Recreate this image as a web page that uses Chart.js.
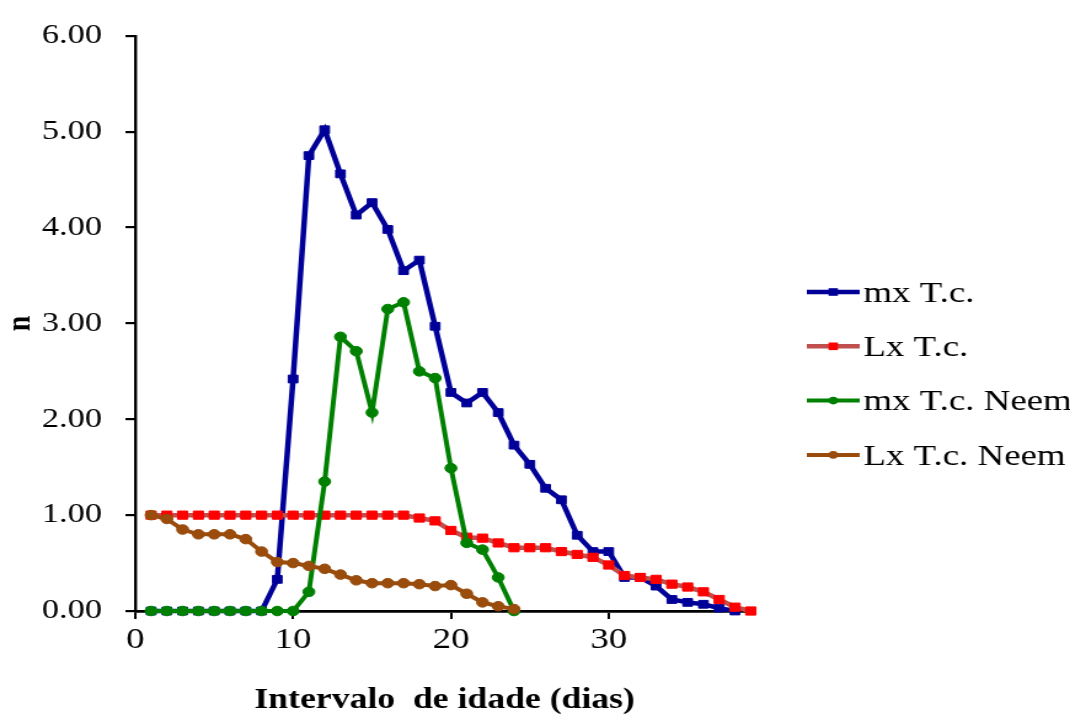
<!DOCTYPE html>
<html>
<head>
<meta charset="utf-8">
<script src="https://cdn.jsdelivr.net/npm/chart.js@4.4.1/dist/chart.umd.min.js"></script>
<style>
  html, body { margin: 0; padding: 0; background: #ffffff; overflow: hidden; }
  /* the figure is drawn on a narrower canvas and widened to the page, giving the wide serif lettering */
  #wrap { width: 870px; height: 719px; transform: scaleX(1.2299); transform-origin: 0 0; }
  canvas { display: block; }
</style>
</head>
<body>
<div id="wrap"><canvas id="chart" width="870" height="719"></canvas></div>
<script>
// Age interval (days)
const days = [1, 2, 3, 4, 5, 6, 7, 8, 9, 10, 11, 12, 13, 14, 15, 16, 17, 18, 19, 20,
              21, 22, 23, 24, 25, 26, 27, 28, 29, 30, 31, 32, 33, 34, 35, 36, 37, 38, 39];

// mx T.c. (fecundity, untreated)
const mxTc = [0, 0, 0, 0, 0, 0, 0, 0, 0.33, 2.42, 4.75, 5.02, 4.56, 4.13, 4.26, 3.98, 3.55, 3.66, 2.97, 2.28,
              2.17, 2.28, 2.07, 1.73, 1.53, 1.28, 1.16, 0.79, 0.62, 0.62, 0.35, 0.35, 0.26, 0.12, 0.09, 0.07, 0.03, 0.0, null];

// Lx T.c. (survival, untreated)
const lxTc = [1, 1, 1, 1, 1, 1, 1, 1, 1, 1, 1, 1, 1, 1, 1, 1, 1, 0.97, 0.94, 0.84,
              0.77, 0.76, 0.71, 0.66, 0.66, 0.66, 0.62, 0.59, 0.56, 0.48, 0.37, 0.35, 0.33, 0.28, 0.25, 0.20, 0.12, 0.04, 0];

// mx T.c. Neem
const mxNeem = [0, 0, 0, 0, 0, 0, 0, 0, 0, 0, 0.20, 1.35, 2.86, 2.71, 2.07, 3.15, 3.22, 2.50, 2.43, 1.49,
                0.71, 0.64, 0.35, 0, null, null, null, null, null, null, null, null, null, null, null, null, null, null, null];

// Lx T.c. Neem
const lxNeem = [1.00, 0.96, 0.85, 0.80, 0.80, 0.80, 0.75, 0.62, 0.51, 0.50, 0.47, 0.44, 0.38, 0.32, 0.29, 0.29, 0.29, 0.28, 0.26, 0.27,
                0.18, 0.09, 0.05, 0.02, null, null, null, null, null, null, null, null, null, null, null, null, null, null, null];

const seriesLabels = ['mx T.c.', 'Lx T.c.', 'mx T.c. Neem', 'Lx T.c. Neem'];
const xTicks = [0, 10, 20, 30];
const yTicks = [0, 1, 2, 3, 4, 5, 6];
const axisTitleX = 'Intervalo  de idade (dias)';
const axisTitleY = 'n';

const SERIF = '"Liberation Serif", "Times New Roman", serif';

function toPoints(vals) {
  return days.map((d, i) => ({ x: d, y: vals[i] }));
}

// legend at the right: short line with its marker, then the series name
const sideLegend = {
  id: 'sideLegend',
  afterDraw(chart, args, opts) {
    const ctx = chart.ctx;
    chart.data.datasets.forEach((ds, i) => {
      const y = opts.top + i * opts.rowGap;
      ctx.save();
      ctx.strokeStyle = ds.borderColor;
      ctx.lineWidth = ds.borderWidth;
      ctx.beginPath();
      ctx.moveTo(opts.x0, y);
      ctx.lineTo(opts.x1, y);
      ctx.stroke();
      const cx = (opts.x0 + opts.x1) / 2;
      ctx.fillStyle = ds.pointBackgroundColor;
      if (ds.pointStyle === 'rect') {
        const h = opts.squareHalf;
        ctx.fillRect(cx - h, y - h, 2 * h, 2 * h);
      } else {
        ctx.beginPath();
        ctx.arc(cx, y, opts.dotRadius, 0, Math.PI * 2);
        ctx.fill();
      }
      ctx.fillStyle = '#000000';
      ctx.font = opts.fontSize + 'px ' + SERIF;
      ctx.textBaseline = 'middle';
      ctx.textAlign = 'left';
      ctx.fillText(ds.label, opts.textX, y + 2);
      ctx.restore();
    });
  }
};

const chart = new Chart(document.getElementById('chart'), {
  type: 'line',
  data: {
    datasets: [
      {
        label: seriesLabels[0], data: toPoints(mxTc),
        borderColor: '#000099', backgroundColor: '#000099', borderWidth: 4.5,
        pointStyle: 'rect', pointRadius: 5.5, pointBorderWidth: 1,
        pointBackgroundColor: '#000099', pointBorderColor: '#000099',
        tension: 0, clip: false, order: 4
      },
      {
        label: seriesLabels[1], data: toPoints(lxTc),
        borderColor: '#C0504D', backgroundColor: '#FF0000', borderWidth: 4.5,
        pointStyle: 'rect', pointRadius: 5.8, pointBorderWidth: 1,
        pointBackgroundColor: '#FF0000', pointBorderColor: '#FF0000',
        tension: 0, clip: false, order: 3
      },
      {
        label: seriesLabels[2], data: toPoints(mxNeem),
        borderColor: '#008000', backgroundColor: '#008000', borderWidth: 4,
        pointStyle: 'circle', pointRadius: 4.8, pointBorderWidth: 1,
        pointBackgroundColor: '#008000', pointBorderColor: '#008000',
        tension: 0, clip: false, order: 2
      },
      {
        label: seriesLabels[3], data: toPoints(lxNeem),
        borderColor: '#994C0C', backgroundColor: '#994C0C', borderWidth: 4,
        pointStyle: 'circle', pointRadius: 4.8, pointBorderWidth: 1,
        pointBackgroundColor: '#994C0C', pointBorderColor: '#994C0C',
        tension: 0, clip: false, order: 1
      }
    ]
  },
  options: {
    responsive: false,
    animation: false,
    devicePixelRatio: 1,
    layout: { padding: { top: 25, right: 257, bottom: 0, left: 0 } },
    plugins: {
      legend: { display: false },
      tooltip: { enabled: false },
      sideLegend: {
        x0: 656, x1: 699, textX: 702, top: 292, rowGap: 54.3,
        fontSize: 30, squareHalf: 3.8, dotRadius: 3.8
      }
    },
    scales: {
      x: {
        type: 'linear', min: 0, max: 39.2,
        afterBuildTicks: s => { s.ticks = xTicks.map(v => ({ value: v })); },
        afterFit: s => { s.height = 108; },
        ticks: { font: { family: SERIF, size: 30 }, color: '#000000', padding: 3, maxRotation: 0, autoSkip: false },
        grid: { drawOnChartArea: false, drawTicks: true, tickLength: 8, color: '#000000', lineWidth: 2 },
        border: { display: true, color: '#000000', width: 2.8 },
        title: {
          display: true, text: axisTitleX, color: '#000000',
          font: { family: SERIF, size: 29, weight: 'bold' },
          padding: { top: 0, bottom: 1 }
        }
      },
      y: {
        type: 'linear', min: 0, max: 6,
        afterBuildTicks: s => { s.ticks = yTicks.map(v => ({ value: v })); },
        afterFit: s => { s.width = 110; },
        ticks: { font: { family: SERIF, size: 28 }, color: '#000000', padding: 19, callback: v => Number(v).toFixed(2) },
        grid: { drawOnChartArea: false, drawTicks: true, tickLength: 8, color: '#000000', lineWidth: 2.2 },
        border: { display: true, color: '#000000', width: 2.4 },
        title: {
          display: true, text: axisTitleY, color: '#000000',
          font: { family: SERIF, size: 28, weight: 'bold' },
          padding: { top: 0, bottom: 0 }
        }
      }
    }
  },
  plugins: [sideLegend]
});
</script>
</body>
</html>
